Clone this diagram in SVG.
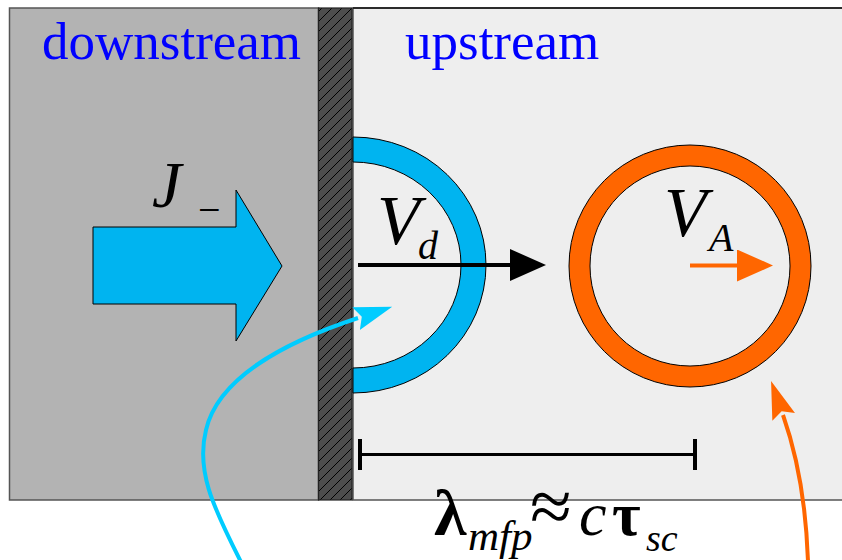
<svg xmlns="http://www.w3.org/2000/svg" width="842" height="560" viewBox="0 0 842 560">
<style>
.lbl{font-family:"Liberation Serif","Times New Roman",serif;fill:#0000ff;font-size:53px}
.it{font-family:"Liberation Serif","Times New Roman",serif;font-style:italic;fill:#000}
.bd{font-family:"Liberation Serif","Times New Roman",serif;font-weight:bold;fill:#000}
.rg{font-family:"Liberation Serif","Times New Roman",serif;fill:#000}
</style>
<defs>
<pattern id="hatch" patternUnits="userSpaceOnUse" width="10" height="10">
<rect width="10" height="10" fill="#4d4d4d"/>
<path d="M-1 11 L11 -1 M-6 6 L6 -6 M4 16 L16 4" stroke="#000" stroke-width="1"/>
</pattern>
<marker id="ahBlack" viewBox="0 0 36 32" refX="1" refY="16" markerWidth="36" markerHeight="32" markerUnits="userSpaceOnUse" orient="auto">
<path d="M0 0 L36 16 L0 32 Z" fill="#000"/>
</marker>
<marker id="ahOrange" viewBox="0 0 36 32" refX="1" refY="16" markerWidth="36" markerHeight="32" markerUnits="userSpaceOnUse" orient="auto">
<path d="M0 0 L36 16 L0 32 Z" fill="#ff6600"/>
</marker>
<marker id="ahCyan" viewBox="0 0 38 24" refX="2" refY="12" markerWidth="38" markerHeight="24" markerUnits="userSpaceOnUse" orient="auto">
<path d="M0 0 L38 12 L0 24 L6 12 Z" fill="#00ccff"/>
</marker>
<marker id="ahOrange2" viewBox="0 0 38 24" refX="2" refY="12" markerWidth="38" markerHeight="24" markerUnits="userSpaceOnUse" orient="auto">
<path d="M0 0 L38 12 L0 24 L6 12 Z" fill="#ff6600"/>
</marker>
</defs>
<rect width="842" height="560" fill="#fff"/>

<g id="downstream">
<rect x="9.5" y="8" width="309" height="492" fill="#b3b3b3" stroke="#555" stroke-width="1.5"/>
<text class="lbl" x="42" y="59">downstream</text>
</g>
<g id="upstream">
<rect x="353" y="8" width="495" height="492" fill="#eeeeee" stroke="#555" stroke-width="1.5"/>
<line x1="353" y1="8" x2="842" y2="8" stroke="#111" stroke-width="1.5"/>
<text class="lbl" x="405" y="59">upstream</text>
</g>
<g id="barrier">
<rect x="318.5" y="8" width="33.5" height="492" fill="url(#hatch)" stroke="#222" stroke-width="1.2"/>
</g>

<g id="flux-arrow">
<path d="M93 227 L236 227 L236 190 L282 266 L236 341 L236 304 L93 304 Z" fill="#00b4f0" stroke="#000" stroke-width="1"/>
<text class="it" x="152" y="207" font-size="66">J</text>
<text class="rg" x="198" y="223" font-size="40">−</text>
</g>

<g id="half-ring">
<path d="M353 137 A133 128 0 0 1 353 393 L353 368 A108 103 0 0 0 353 162 Z" fill="#00b4f0" stroke="#000" stroke-width="1"/>
<text class="it" x="377" y="244" font-size="70">V</text>
<text class="it" x="418" y="259" font-size="40">d</text>
</g>

<g id="ring">
<circle cx="690" cy="266" r="110.5" fill="none" stroke="#ff6600" stroke-width="21"/>
<circle cx="690" cy="266" r="121" fill="none" stroke="#000" stroke-width="1"/>
<circle cx="690" cy="266" r="100" fill="none" stroke="#000" stroke-width="1"/>
<text class="it" x="664" y="236" font-size="70">V</text>
<text class="it" x="709" y="251" font-size="40">A</text>
</g>

<g id="connectors">
<line x1="358" y1="265" x2="511" y2="265" stroke="#000" stroke-width="4" marker-end="url(#ahBlack)"/>
<line x1="690" y1="265.5" x2="738" y2="265.5" stroke="#ff6600" stroke-width="4" marker-end="url(#ahOrange)"/>
<path d="M241 562 C212 505 196 470 206 430 C218 378 285 342 358 318" fill="none" stroke="#00ccff" stroke-width="4" marker-end="url(#ahCyan)"/>
<path d="M808 562 C806 500 796 452 783 415" fill="none" stroke="#ff6600" stroke-width="4" marker-end="url(#ahOrange2)"/>
</g>

<g id="mfp">
<line x1="360" y1="439" x2="360" y2="470" stroke="#000" stroke-width="4"/>
<line x1="695" y1="439" x2="695" y2="470" stroke="#000" stroke-width="4"/>
<line x1="360" y1="454.5" x2="695" y2="454.5" stroke="#000" stroke-width="3"/>
<text class="rg" x="434" y="535" font-size="66" font-weight="600">λ</text>
<text class="it" x="468" y="550" font-size="43">mfp</text>
<text class="rg" x="530" y="532" font-size="76">≈</text>
<text class="it" x="579" y="535" font-size="62">c</text>
<text class="bd" x="612" y="535" font-size="62">τ</text>
<text class="it" x="646" y="551" font-size="38">sc</text>
</g>
</svg>
